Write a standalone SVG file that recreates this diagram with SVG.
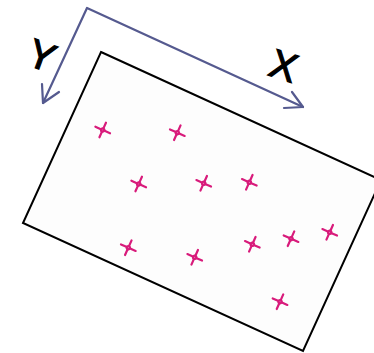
<svg xmlns="http://www.w3.org/2000/svg" xmlns:xlink="http://www.w3.org/1999/xlink" width="374" height="353" viewBox="0 0 374 353">
<style>
.axis{fill:none;stroke:#555a8f;stroke-width:2.2;stroke-linecap:round;stroke-linejoin:round}
.lbl{font-family:"Liberation Sans",Arial,sans-serif;font-size:40px;fill:#000;stroke:#000;stroke-width:1.2;text-anchor:middle}
.cr{stroke:#d81b7b;stroke-width:2.2;stroke-linecap:round;fill:none}
</style>
<defs>
<g id="cross">
<g transform="rotate(24)">
<line class="cr" x1="-8" y1="0" x2="-1.5" y2="0"/>
<line class="cr" x1="1.5" y1="0" x2="8" y2="0"/>
<line class="cr" x1="0" y1="-8" x2="0" y2="-1.5"/>
<line class="cr" x1="0" y1="1.5" x2="0" y2="8"/>
<circle class="cr" r="1.6" stroke-width="1.4"/>
</g>
</g>
</defs>
<g id="plate">
<polygon points="101,52 381,180 303,351 23,223" fill="#fdfdfd" stroke="#000" stroke-width="2"/>
</g>
<g id="connectors">
<polyline class="axis" points="43,103 87,8 303,107"/>
<polyline class="axis" points="42,84 43,103 59,92"/>
<polyline class="axis" points="292,92 303,107 284,108"/>
</g>
<g id="labels">
<text class="lbl" x="284" y="79.5" transform="rotate(18 284 65)">X</text>
<text class="lbl" x="42" y="69.5" transform="rotate(20 42 55)">Y</text>
</g>
<g id="points">
<use xlink:href="#cross" x="102.7" y="130"/>
<use xlink:href="#cross" x="177.3" y="132.7"/>
<use xlink:href="#cross" x="138.7" y="184"/>
<use xlink:href="#cross" x="203.7" y="183.3"/>
<use xlink:href="#cross" x="249.3" y="182.3"/>
<use xlink:href="#cross" x="128.3" y="247.7"/>
<use xlink:href="#cross" x="194.7" y="257.3"/>
<use xlink:href="#cross" x="252.3" y="244.3"/>
<use xlink:href="#cross" x="291" y="238.7"/>
<use xlink:href="#cross" x="329.7" y="232.3"/>
<use xlink:href="#cross" x="280" y="301.7"/>
</g>
</svg>
